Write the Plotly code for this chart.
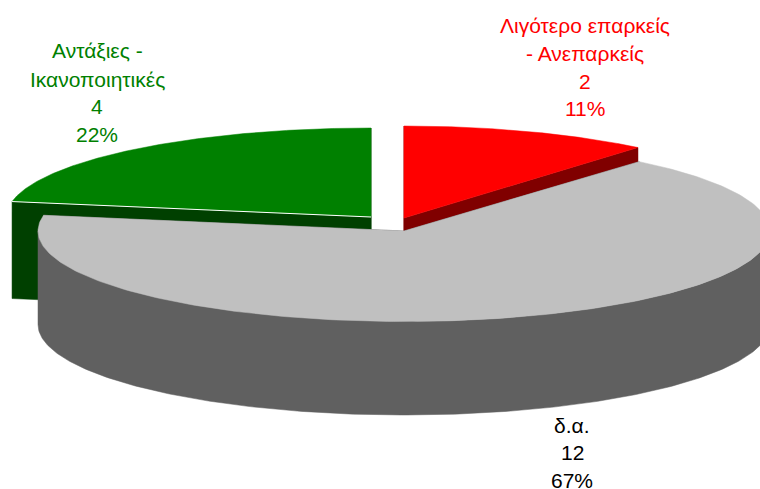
import numpy as np
import plotly.graph_objects as go

# Data
categories = ["Λιγότερο επαρκείς - Ανεπαρκείς", "δ.α.", "Αντάξιες - Ικανοποιητικές"]
counts = [2, 12, 4]
percents = ["11%", "67%", "22%"]
label_lines = [["Λιγότερο επαρκείς", "- Ανεπαρκείς"], ["δ.α."], ["Αντάξιες -", "Ικανοποιητικές"]]

# Styling / layout of each exploded slice
top_colors = ["#ff0000", "#c0c0c0", "#008000"]
side_colors = ["#800000", "#606060", "#004000"]
text_colors = ["#ff0000", "#000000", "#008000"]
centers = [(404, 218), (404, 231), (371, 217)]
RX = [364, 366, 364.5]
RY = [92, 90.5, 89]
DEPTH = [95, 93.5, 97]
label_x = [585, 572, 97]
label_y = [[25, 53, 81, 108], [425, 452, 480], [50, 79, 106, 134]]

total = sum(counts)
edges = np.cumsum([0] + counts) / total * 2 * np.pi


def rim(i, t0=None, t1=None, n=240):
    t = np.linspace(edges[i] if t0 is None else t0, edges[i + 1] if t1 is None else t1, n)
    cx, cy = centers[i]
    return cx + RX[i] * np.sin(t), cy - RY[i] * np.cos(t)


def poly(fig, x, y, color):
    fig.add_trace(go.Scatter(
        x=np.append(x, x[0]), y=np.append(y, y[0]), mode="lines", fill="toself",
        fillcolor=color, line=dict(color=color, width=0.5),
        hoverinfo="skip", showlegend=False))


fig = go.Figure()
for i in [2, 0, 1]:
    cx, cy = centers[i]
    x, y = rim(i)
    d = DEPTH[i]
    # cut faces
    for j in (0, -1):
        poly(fig, np.array([cx, x[j], x[j], cx]),
             np.array([cy, y[j], y[j] + d, cy + d]), side_colors[i])
    # outer wall: only the front half of the rim is ever visible
    t0 = max(edges[i], np.pi / 2)
    t1 = min(edges[i + 1], 3 * np.pi / 2)
    if t1 > t0:
        wx, wy = rim(i, t0, t1)
        poly(fig, np.concatenate([wx, wx[::-1]]), np.concatenate([wy, wy[::-1] + d]), side_colors[i])
    # top surface
    poly(fig, np.append(x, cx), np.append(y, cy), top_colors[i])
    if i == 2:
        fig.add_trace(go.Scatter(x=[x[0], cx], y=[y[0], cy], mode="lines",
                                 line=dict(color="#ffffff", width=1),
                                 hoverinfo="skip", showlegend=False))

for i in range(3):
    lines = label_lines[i] + [str(counts[i]), percents[i]]
    for text, ty in zip(lines, label_y[i]):
        fig.add_annotation(x=label_x[i], y=ty, text=text, showarrow=False,
                           xanchor="center", yanchor="middle",
                           font=dict(family="Liberation Sans, Arial, sans-serif",
                                     size=21, color=text_colors[i]))

fig.update_layout(
    width=760, height=489, margin=dict(l=0, r=0, t=0, b=0),
    paper_bgcolor="#ffffff", plot_bgcolor="#ffffff", showlegend=False,
    xaxis=dict(range=[0, 760], visible=False, fixedrange=True),
    yaxis=dict(range=[489, 0], visible=False, fixedrange=True),
)
fig.write_html("out.html", config={"displayModeBar": False},
               post_script="document.body.style.margin='0';document.body.style.overflow='hidden';")
